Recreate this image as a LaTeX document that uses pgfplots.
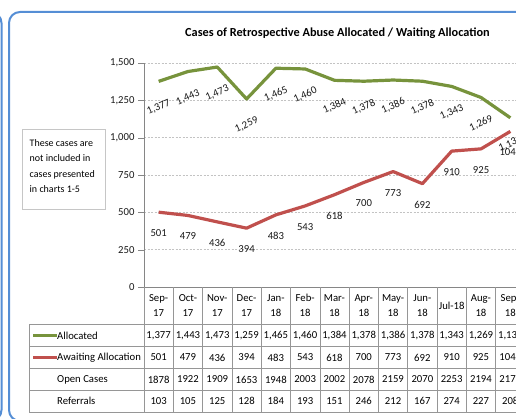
\documentclass[border=0pt]{standalone}
\usepackage{pgfplots}
\pgfplotsset{compat=1.18}
\usepackage{fontspec}
\setmainfont{Carlito}

\definecolor{frameblue}{RGB}{85,142,213}
\definecolor{allocgreen}{RGB}{119,147,60}
\definecolor{waitred}{RGB}{192,80,77}
\definecolor{gridgray}{RGB}{195,195,195}
\definecolor{axisgray}{RGB}{134,134,134}
\definecolor{tablegray}{RGB}{150,150,150}

\pgfkeys{/pgf/number format/.cd, 1000 sep={,}, assume math mode=true}
\newcommand{\tabfont}{\fontsize{10.7}{12.5}\selectfont}

\pgfplotstableread{
x alloc wait
0 1377 501
1 1443 479
2 1473 436
3 1259 394
4 1465 483
5 1460 543
6 1384 618
7 1378 700
8 1386 773
9 1378 692
10 1343 910
11 1269 925
12 1133 1042
}\cases

\begin{document}
\begin{tikzpicture}
\useasboundingbox (0,0) rectangle (516pt,418pt);
\clip (0,0) rectangle (516pt,418pt);

\begin{scope}[x=1pt,y=1pt]
  % panel frames
  \draw[frameblue, line width=2pt, rounded corners=11pt] (-60,406) rectangle (1.5,-3);
  \draw[frameblue, line width=2pt, rounded corners=11pt] (9,406) rectangle (620,-3);
  % title
  \node[font=\bfseries\fontsize{12.3}{14}\selectfont] at (337.5,385)
    {Cases of Retrospective Abuse Allocated / Waiting Allocation};
  % note box
  \draw[gray!45, fill=white] (22,289) rectangle (105,209);
  \foreach \t [count=\i from 0] in {These cases are, not included in, cases presented, in charts 1-5}
    \node[anchor=base west, inner sep=0, font=\fontsize{10}{11}\selectfont] at (29.5,271.5-15.5*\i) {\t};
\end{scope}

\begin{axis}[
  at={(144pt,131pt)}, anchor=south west,
  scale only axis, width=381pt, height=224pt,
  xmin=-0.5, xmax=12.5, ymin=0, ymax=1500,
  axis x line*=bottom, axis y line*=left,
  axis line style={axisgray, -},
  xtick=\empty,
  ytick={0,250,...,1500},
  ymajorgrids,
  grid style={gridgray, dash pattern=on 2pt off 1.5pt},
  tick align=outside, major tick length=6pt,
  ytick style={axisgray},
  yticklabel style={font=\tabfont, text=black!90},
  clip=false,
  line join=round,
]
\addplot[allocgreen, line width=3.2pt, mark=none,
  nodes near coords, nodes near coords align={center},
  every node near coord/.append style={text=black!90, font=\tabfont,
    anchor=center, yshift=-26pt, rotate=24}]
  table[x=x, y=alloc] {\cases};
\addplot[waitred, line width=3.2pt, mark=none,
  nodes near coords, nodes near coords align={center},
  every node near coord/.append style={text=black!90, font=\tabfont,
    anchor=center, yshift=-21pt, /pgf/number format/1000 sep={}}]
  table[x=x, y=wait] {\cases};
\end{axis}

\begin{scope}[x=1pt,y=1pt, font=\tabfont]
  % data table grid
  \foreach \y in {93.5,71.5,49.5,27.5,6}
    \draw[tablegray, line width=0.6pt] (29,\y) -- (530,\y);
  \draw[tablegray, line width=0.6pt] (29,93.5) -- (29,6);
  \foreach \k in {0,...,13}
    \draw[tablegray, line width=0.6pt] (144+29.3*\k,131) -- (144+29.3*\k,6);
  % category header
  \foreach \m [count=\k from 0] in {Sep-\\17, Oct-\\17, Nov-\\17, Dec-\\17, Jan-\\18, Feb-\\18,
      Mar-\\18, Apr-\\18, May-\\18, Jun-\\18, Jul-18, Aug-\\18, Sep-\\18}
    \node[align=center, font=\fontsize{10.7}{15}\selectfont, inner sep=0] at (144+29.3*\k+14.65,112.5) {\m};
  % row headers with legend keys
  \draw[allocgreen, line width=3pt] (33,82.5) -- (57,82.5);
  \draw[waitred, line width=3pt] (33,60.5) -- (57,60.5);
  \node[anchor=west, inner sep=0] at (57,82.5) {Allocated};
  \node[anchor=west, inner sep=0] at (57,60.5) {Awaiting Allocation};
  \node[anchor=west, inner sep=0] at (57,38.5) {Open Cases};
  \node[anchor=west, inner sep=0] at (57,17) {Referrals};
  % row values
  \foreach \v [count=\k from 0] in {1377,1443,1473,1259,1465,1460,1384,1378,1386,1378,1343,1269,1133}
    \node at (144+29.3*\k+14.65,82.5) {\pgfmathprintnumber{\v}};
  \foreach \v [count=\k from 0] in {501,479,436,394,483,543,618,700,773,692,910,925,1042}
    \node at (144+29.3*\k+14.65,60.5) {\v};
  \foreach \v [count=\k from 0] in {1878,1922,1909,1653,1948,2003,2002,2078,2159,2070,2253,2194,2175}
    \node at (144+29.3*\k+14.65,38.5) {\v};
  \foreach \v [count=\k from 0] in {103,105,125,128,184,193,151,246,212,167,274,227,208}
    \node at (144+29.3*\k+14.65,17) {\v};
\end{scope}
\end{tikzpicture}
\end{document}
